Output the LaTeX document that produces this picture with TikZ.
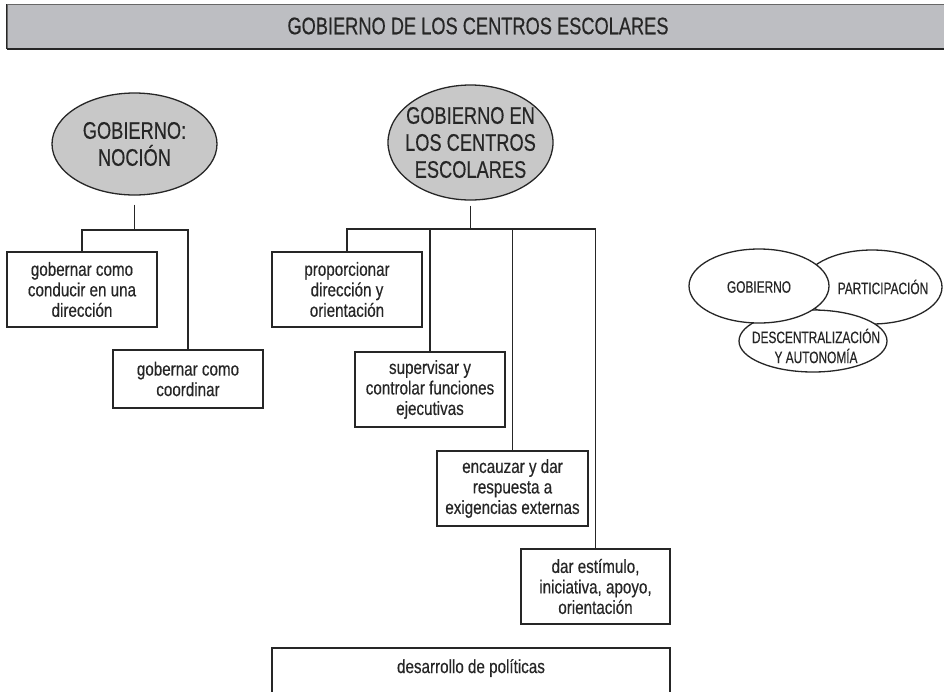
\documentclass[tikz,border=0pt]{standalone}
\usepackage{fontspec}
\setmainfont{Liberation Sans}[FakeStretch=0.8,FakeBold=0.4]
\newfontfamily\capsf{Liberation Sans}[FakeStretch=0.76,FakeBold=0.4]
\newfontfamily\vennf{Liberation Sans}[FakeStretch=0.72,FakeBold=0.3]
\usetikzlibrary{shapes.geometric}
\definecolor{barfill}{HTML}{BDBEC2}
\definecolor{ellfill}{HTML}{C8C8C8}
\definecolor{ink}{HTML}{262626}
\begin{document}
\begin{tikzpicture}[x=1pt,y=-1pt,line width=1.3pt,
  box/.style={draw=ink,rectangle,minimum width=150pt,minimum height=75pt,inner sep=0pt,
    align=center,text=ink,font=\fontsize{19}{20.5}\selectfont},
  bigell/.style={draw=ink,fill=ellfill,ellipse,inner sep=0pt},
  bigtxt/.style={align=center,text=ink,inner sep=0pt,font=\capsf\fontsize{24}{27}\selectfont},
  vennell/.style={draw=ink,fill=white,ellipse,inner sep=0pt},
  venntxt/.style={align=center,text=ink,inner sep=0pt,font=\vennf\fontsize{16.5}{20}\selectfont},
  link/.style={draw=ink,line width=1.3pt}]
\useasboundingbox (0,0) rectangle (944,691);
% title bar
\node[draw=ink!70,fill=barfill,line width=1pt,minimum width=940pt,minimum height=44pt,inner sep=0pt] (bar) at (477,26) {};
\draw[ink,line width=2pt] (bar.south west) -- (bar.south east);
\draw[ink,line width=1.6pt] (bar.south west) -- (bar.north west);
\node[text=ink,font=\capsf\fontsize{24}{27}\selectfont] (title) at (478,26) {GOBIERNO DE LOS CENTROS ESCOLARES};
% left tree
\node[bigell,minimum width=165pt,minimum height=102pt] (e1) at (134.5,144) {};
\node[bigtxt] (e1t) at (e1) {GOBIERNO:\\NOCIÓN};
\node[box] (b1) at (82,289.5) {gobernar como\\conducir en una\\dirección};
\node[box,minimum height=58pt] (b2) at (188,379) {gobernar como\\coordinar};
\coordinate (j1) at (134.5,230);
\draw[link] ([yshift=-9pt]e1.south) -- (j1);
\draw[link] (j1) -| (b1.north);
\draw[link] (j1) -| (b2.north);
% middle tree
\node[bigell,minimum width=165pt,minimum height=115pt] (e2) at (470.5,142.5) {};
\node[bigtxt] (e2t) at (e2) {GOBIERNO EN\\LOS CENTROS\\ESCOLARES};
\node[box] (b3) at (347,289.5) {proporcionar\\dirección y\\orientación};
\node[box] (b4) at (430,389.5) {supervisar y\\controlar funciones\\ejecutivas};
\node[box,minimum width=151pt] (b5) at (512.5,488.5) {encauzar y dar\\respuesta a\\exigencias externas};
\node[box,minimum width=149pt] (b6) at (595.5,586.5) {dar estímulo,\\iniciativa, apoyo,\\orientación};
\coordinate (j2) at (470.5,229);
\draw[link] ([yshift=-5pt]e2.south) -- (j2);
\draw[link] (j2) -| (b3.north);
\draw[link] (j2) -| (b4.north);
\draw[link] (j2) -| (b5.north);
\draw[link] (j2) -| (b6.north);
% bottom open box
\draw[ink,line width=1.3pt] (272,695) -- (272,648) -- (670,648) -- (670,695);
\node[text=ink,font=\fontsize{19}{20.5}\selectfont] (b7) at (471,668) {desarrollo de políticas};
% venn
\node[vennell,minimum width=140pt,minimum height=74pt] (vp) at (872,287) {};
\node[vennell,minimum width=148pt,minimum height=62pt] (vd) at (813,341) {};
\node[vennell,minimum width=140pt,minimum height=74pt] (vg) at (759,286) {};
\node[venntxt] (vgt) at (759,287) {GOBIERNO};
\node[venntxt] (vpt) at (883,287) {PARTICIPACIÓN};
\node[venntxt] (vdt) at (816,346) {DESCENTRALIZACIÓN\\Y AUTONOMÍA};
\end{tikzpicture}
\end{document}
